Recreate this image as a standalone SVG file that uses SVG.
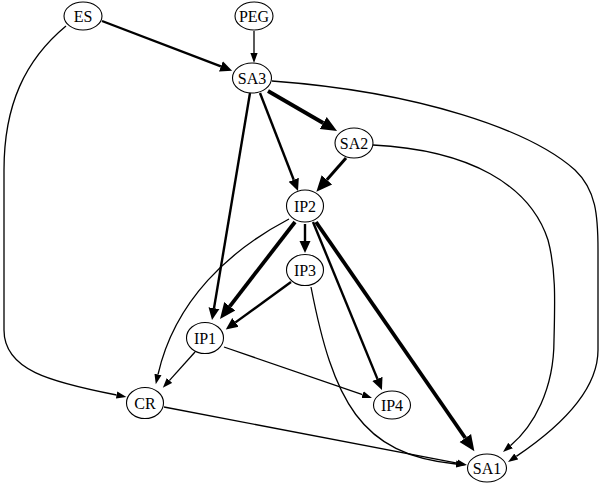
<svg xmlns="http://www.w3.org/2000/svg" width="600" height="483" viewBox="0 0 600 483">
<style>
.n ellipse{fill:#fff;stroke:#000;stroke-width:1.1}
.n text{font-family:"Liberation Serif","Times New Roman",serif;font-size:16px;text-anchor:middle;dominant-baseline:central;fill:#000}
.e path{fill:none;stroke:#000}
.t1{stroke-width:1.3;marker-end:url(#m1)}
.t2{stroke-width:2.4;marker-end:url(#m2)}
.t3{stroke-width:3.8;marker-end:url(#m3)}
</style>
<defs>
<marker id="m1" markerUnits="userSpaceOnUse" viewBox="0 -4 11 8" markerWidth="11" markerHeight="8" refX="0" refY="0" orient="auto"><path d="M0,-3.6L10,0L0,3.6z" fill="#000"/></marker>
<marker id="m2" markerUnits="userSpaceOnUse" viewBox="0 -6 13 12" markerWidth="13" markerHeight="12" refX="0" refY="0" orient="auto"><path d="M0,-5.5L12,0L0,5.5z" fill="#000"/></marker>
<marker id="m3" markerUnits="userSpaceOnUse" viewBox="0 -8 18 16" markerWidth="18" markerHeight="16" refX="0" refY="0" orient="auto"><path d="M0,-7L16,0L0,7z" fill="#000"/></marker>
</defs>
<g id="edges" class="e">
<path class="t2" d="M102,21L220.9,66.4"/>
<path class="t1" d="M254,31L254,53"/>
<path class="t1" d="M66,26C25,60 4,105 4,170L4,330C4,370 50,382 116.6,395"/>
<path class="t1" d="M272,81C420,92 530,130 575,170C596,190 598,215 598,250L598,350C598,395 549.5,434 516.3,456.4"/>
<path class="t3" d="M268,91L323.2,123"/>
<path class="t2" d="M260,93L293.7,179.8"/>
<path class="t2" d="M250,93L214,308.2"/>
<path class="t3" style="stroke-width:3" d="M346,158L326.9,179.8"/>
<path class="t1" d="M373,145C470,150 530,185 548,240C556,270 555,300 554,340C554,390 533.4,426 510.6,445.5"/>
<path class="t2" d="M305,224L305,241"/>
<path class="t3" d="M295,222L229.8,306.3"/>
<path class="t1" d="M289,219C230,250 175,300 158,374.5"/>
<path class="t2" d="M313,222L377.4,378.9"/>
<path class="t3" d="M316,222L465.3,438"/>
<path class="t2" d="M291,282L235.5,322.4"/>
<path class="t1" d="M311,287C333,400 360,455 456,464"/>
<path class="t1" d="M195,352L169.5,380.4"/>
<path class="t1" d="M224,347L362.5,394.7"/>
<path class="t1" d="M164,407L457.2,463.1"/>
</g>
<g id="ES" class="n"><ellipse cx="83" cy="16" rx="19" ry="14"/><text x="83" y="16">ES</text></g>
<g id="PEG" class="n"><ellipse cx="254" cy="16" rx="19" ry="14"/><text x="254" y="16">PEG</text></g>
<g id="SA3" class="n"><ellipse cx="252" cy="78" rx="19.5" ry="15"/><text x="252" y="78">SA3</text></g>
<g id="SA2" class="n"><ellipse cx="354" cy="143" rx="19" ry="15"/><text x="354" y="143">SA2</text></g>
<g id="IP2" class="n"><ellipse cx="305" cy="206" rx="18.5" ry="16"/><text x="305" y="206">IP2</text></g>
<g id="IP3" class="n"><ellipse cx="305" cy="270" rx="18.5" ry="15.5"/><text x="305" y="270">IP3</text></g>
<g id="IP1" class="n"><ellipse cx="205" cy="338" rx="18.5" ry="15.5"/><text x="205" y="338">IP1</text></g>
<g id="CR" class="n"><ellipse cx="145" cy="403" rx="18.5" ry="15.5"/><text x="145" y="403">CR</text></g>
<g id="IP4" class="n"><ellipse cx="392" cy="405" rx="18.5" ry="14"/><text x="392" y="405">IP4</text></g>
<g id="SA1" class="n"><ellipse cx="487" cy="468" rx="19.5" ry="14"/><text x="487" y="468">SA1</text></g>
</svg>
